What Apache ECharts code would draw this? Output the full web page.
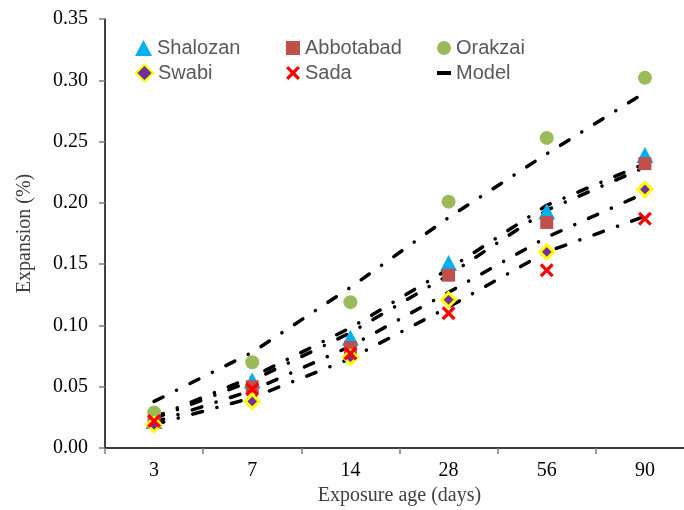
<!DOCTYPE html>
<html>
<head>
<meta charset="utf-8">
<script src="https://cdn.jsdelivr.net/npm/echarts@6/dist/echarts.min.js"></script>
<style>
  html, body { margin: 0; padding: 0; background: #fff; }
  #chart { width: 684px; height: 510px; }
</style>
</head>
<body>
<div id="chart"></div>
<script>
// Exposure ages (days) along the horizontal axis
const categories = ['3', '7', '14', '28', '56', '90'];

// Measured expansion (%) for each aggregate source
const shalozan  = [0.022, 0.055, 0.090, 0.151, 0.193, 0.239];
const abbotabad = [0.021, 0.050, 0.082, 0.141, 0.184, 0.232];
const orakzai   = [0.029, 0.070, 0.119, 0.201, 0.253, 0.302];
const swabi     = [0.019, 0.038, 0.074, 0.121, 0.160, 0.211];
const sada      = [0.022, 0.048, 0.077, 0.110, 0.145, 0.187];

// Model predictions for each source
const modelOrakzai   = [0.038, 0.078, 0.131, 0.188, 0.240, 0.290];
const modelShalozan  = [0.025, 0.058, 0.098, 0.146, 0.198, 0.232];
const modelAbbotabad = [0.024, 0.055, 0.094, 0.141, 0.194, 0.229];
const modelSwabi     = [0.021, 0.047, 0.083, 0.127, 0.172, 0.208];
const modelSada      = [0.019, 0.041, 0.073, 0.115, 0.160, 0.189];

// Y axis range
const yMin = 0, yMax = 0.35, yStep = 0.05;

const serif = "'Liberation Serif', 'Times New Roman', serif";
const sans = "'Liberation Sans', Arial, sans-serif";
const crossPath = 'path://M0,2 L2,0 L6,4 L10,0 L12,2 L8,6 L12,10 L10,12 L6,8 L2,12 L0,10 L4,6 Z';

const chart = echarts.init(document.getElementById('chart'), null, { renderer: 'canvas' });

function modelLine(values) {
  return {
    name: 'Model',
    type: 'line',
    data: values,
    symbol: 'none',
    color: '#000',
    lineStyle: { color: '#000', width: 3.5, type: [10, 15, 0.1, 15], cap: 'round' },
    z: 2,
    silent: true
  };
}

function legendItem(name, left, top, icon, w, h) {
  return {
    data: [{ name: name, icon: icon }],
    left: left, top: top,
    padding: 0,
    itemWidth: w, itemHeight: h,
    selectedMode: false,
    textStyle: { fontFamily: sans, fontSize: 20, color: '#595959' }
  };
}

chart.setOption({
  animation: false,
  backgroundColor: '#fff',
  // the plot runs a little past the right edge of the canvas
  grid: {
    left: 105, top: 19, width: 589, height: 429,
    containLabel: false, outerBoundsMode: 'none'
  },
  legend: [
    legendItem('Shalozan', 135, 38, 'triangle', 17, 16),
    legendItem('Abbotabad', 286, 38, 'rect', 14, 14),
    legendItem('Orakzai', 437, 38, 'circle', 14, 14),
    legendItem('Swabi', 135, 63, 'diamond', 17, 17),
    legendItem('Sada', 286, 63, crossPath, 14, 14),
    legendItem('Model', 437, 63, 'rect', 14, 4)
  ],
  xAxis: {
    type: 'category',
    data: categories,
    boundaryGap: true,
    name: 'Exposure age (days)',
    nameLocation: 'middle',
    nameGap: 38,
    nameTextStyle: { fontFamily: serif, fontSize: 20, color: '#404040' },
    axisLine: { lineStyle: { color: '#000', width: 1.5 } },
    axisTick: { show: true, length: 6, lineStyle: { color: '#7f7f7f', width: 1.5 } },
    axisLabel: { fontFamily: serif, fontSize: 20, color: '#000', margin: 13 },
    splitLine: { show: false }
  },
  yAxis: {
    type: 'value',
    min: yMin, max: yMax, interval: yStep,
    name: 'Expansion (%)',
    nameLocation: 'middle',
    nameGap: 70,
    nameTextStyle: { fontFamily: serif, fontSize: 20, color: '#404040' },
    axisLine: { show: true, lineStyle: { color: '#000', width: 1.5 } },
    axisTick: { show: true, length: 6, lineStyle: { color: '#7f7f7f', width: 1.5 } },
    axisLabel: {
      fontFamily: serif, fontSize: 20, color: '#000', margin: 17,
      formatter: v => v.toFixed(2)
    },
    splitLine: { show: false }
  },
  series: [
    modelLine(modelOrakzai),
    modelLine(modelShalozan),
    modelLine(modelAbbotabad),
    modelLine(modelSwabi),
    modelLine(modelSada),
    {
      name: 'Shalozan', type: 'scatter', data: shalozan, z: 3,
      symbol: 'triangle', symbolSize: [17, 16],
      itemStyle: { color: '#00B0F0', opacity: 1 }
    },
    {
      name: 'Abbotabad', type: 'scatter', data: abbotabad, z: 3,
      symbol: 'rect', symbolSize: 13,
      itemStyle: { color: '#C0504D', opacity: 1 }
    },
    {
      name: 'Orakzai', type: 'scatter', data: orakzai, z: 3,
      symbol: 'circle', symbolSize: 14,
      itemStyle: { color: '#9BBB59', opacity: 1 }
    },
    {
      name: 'Swabi', type: 'scatter', data: swabi, z: 3,
      symbol: 'diamond', symbolSize: 14,
      itemStyle: { color: '#7030A0', borderColor: '#FFFF00', borderWidth: 3, opacity: 1 }
    },
    {
      name: 'Sada', type: 'scatter', data: sada, z: 3,
      symbol: crossPath, symbolSize: 14,
      itemStyle: { color: '#FF0000', opacity: 1 }
    }
  ]
});
</script>
</body>
</html>
